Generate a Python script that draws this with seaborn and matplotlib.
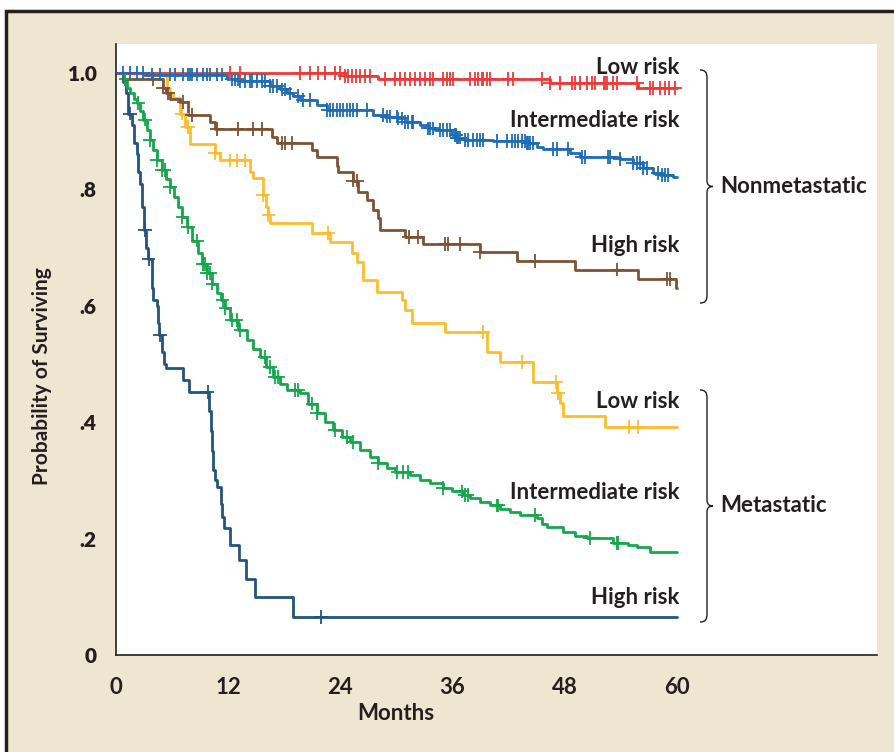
import numpy as np
import pandas as pd
import matplotlib
matplotlib.use("Agg")
import matplotlib.pyplot as plt
import seaborn as sns
from matplotlib.path import Path
from matplotlib.patches import PathPatch, Rectangle
from matplotlib.transforms import Affine2D

# ---------------- data (months, survival probability; step functions) ----------------
groups = ["Met high", "Met intermediate", "Met low", "Nonmet high", "Nonmet intermediate", "Nonmet low"]
colors = ["#24537D", "#14A84B", "#FDBD2B", "#7E5234", "#1C6CB6", "#EC3A35"]

met_high_t = [0, 0.8, 1.1, 1.3, 1.7, 1.9, 2.2, 2.4, 2.6, 2.8, 3.0, 3.2, 3.4, 3.8, 3.9, 4.0, 4.4, 4.5, 4.6,
              4.9, 5.1, 5.4, 7.2, 7.8, 10.0, 10.15, 10.3, 10.4, 10.6, 10.8, 11.2, 11.3, 11.5, 12.2, 13.2,
              13.9, 14.9, 18.9, 60]
met_high_s = [1.0, 0.985, 0.965, 0.93, 0.91, 0.88, 0.86, 0.83, 0.81, 0.77, 0.73, 0.70, 0.68, 0.66, 0.63,
              0.61, 0.60, 0.57, 0.55, 0.52, 0.50, 0.493, 0.472, 0.452, 0.42, 0.385, 0.35, 0.318, 0.30,
              0.289, 0.26, 0.237, 0.218, 0.189, 0.163, 0.131, 0.10, 0.065, 0.065]
met_high_cens = [1.5, 3.1, 3.5, 4.7, 9.8, 21.9]

met_int_t = [0, 0.75, 1.2, 1.5, 1.9, 2.2, 2.6, 2.9, 3.3, 3.6, 4.0, 4.4, 4.9, 5.3, 5.8, 6.2, 6.6, 7.1, 7.6,
             8.1, 8.8, 9.2, 9.7, 10.3, 10.8, 11.2, 11.7, 12.2, 13.0, 14.0, 14.7, 15.4, 16.0, 16.8, 17.5,
             18.3, 19.7, 20.5, 21.5, 22.4, 23.2, 24.2, 25.0, 26.1, 27.2, 28.0, 29.0, 29.8, 31.4, 32.5,
             33.6, 35.0, 35.9, 37.1, 37.9, 38.9, 40.0, 41.1, 42.1, 43.2, 45.0, 45.6, 46.1, 47.8, 49.1,
             50.4, 53.2, 54.8, 55.7, 57.1, 60]
met_int_s = [1.0, 0.99, 0.975, 0.965, 0.955, 0.948, 0.935, 0.92, 0.902, 0.885, 0.868, 0.85, 0.833, 0.818,
             0.804, 0.787, 0.770, 0.752, 0.735, 0.712, 0.69, 0.672, 0.656, 0.638, 0.622, 0.61, 0.596,
             0.576, 0.558, 0.541, 0.525, 0.512, 0.495, 0.478, 0.465, 0.455, 0.450, 0.432, 0.416, 0.40,
             0.387, 0.375, 0.366, 0.352, 0.340, 0.330, 0.321, 0.314, 0.310, 0.301, 0.295, 0.287, 0.281,
             0.275, 0.27, 0.263, 0.257, 0.251, 0.245, 0.241, 0.235, 0.225, 0.220, 0.211, 0.205, 0.201,
             0.192, 0.189, 0.186, 0.177, 0.177]
met_int_cens = [1.0, 2.4, 3.1, 3.6, 4.4, 4.9, 5.2, 5.8, 7.1, 7.7, 8.7, 9.3, 9.5, 9.7, 10.1, 10.3, 11.4,
                11.7, 12.4, 12.9, 13.3, 15.9, 16.5, 17.0, 17.3, 19.1, 19.5, 21.0, 21.5, 23.4, 24.7, 25.3,
                28.0, 30.1, 30.7, 31.2, 35.0, 37.0, 37.3, 37.6, 40.7, 40.9, 44.8, 50.7, 53.6, 53.7]

met_low_t = [0, 5.45, 5.8, 6.1, 6.85, 7.4, 7.9, 10.6, 11.1, 14.3, 14.65, 15.7, 16.0, 16.25, 16.5, 21.0,
             22.9, 25.2, 25.8, 26.4, 27.9, 30.6, 30.9, 31.7, 35.2, 39.7, 41.1, 44.6, 47.2, 47.5, 47.8,
             52.3, 60]
met_low_s = [1.0, 0.975, 0.965, 0.957, 0.93, 0.907, 0.878, 0.862, 0.85, 0.83, 0.82, 0.79, 0.77, 0.756,
             0.742, 0.725, 0.71, 0.69, 0.675, 0.644, 0.624, 0.61, 0.593, 0.57, 0.555, 0.521, 0.503, 0.469,
             0.45, 0.433, 0.41, 0.392, 0.392]
met_low_cens = [7.06, 7.7, 10.6, 12.2, 12.9, 13.8, 15.7, 16.3, 22.7, 39.3, 43.4, 47.1, 47.3, 54.9, 55.8]

non_high_t = [0, 0.8, 5.0, 5.35, 5.8, 6.85, 7.7, 10.05, 10.6, 16.7, 17.2, 21.0, 21.5, 23.6, 23.7, 25.3,
              25.9, 26.8, 27.5, 28.0, 28.2, 30.9, 32.8, 38.9, 42.9, 49.1, 55.8, 59.9, 60]
non_high_s = [1.0, 0.99, 0.975, 0.965, 0.955, 0.95, 0.928, 0.916, 0.904, 0.89, 0.88, 0.868, 0.856, 0.84,
              0.83, 0.815, 0.795, 0.782, 0.765, 0.75, 0.73, 0.718, 0.706, 0.692, 0.677, 0.662, 0.646,
              0.63, 0.63]
non_high_cens = [4.0, 5.0, 5.6, 7.2, 8.1, 10.8, 13.0, 14.7, 15.6, 17.8, 18.1, 18.8, 25.3, 25.8, 31.3,
                 32.3, 35.2, 35.5, 36.8, 38.9, 44.8, 53.6, 58.9, 59.3]

non_int_t = [0, 3.0, 11.9, 13.3, 16.5, 17.5, 18.3, 18.9, 19.7, 21.5, 22.6, 27.5, 28.8, 30.2, 30.9, 32.5,
             33.4, 34.1, 35.9, 36.5, 37.3, 40.3, 44.0, 45.0, 45.7, 48.6, 49.6, 53.9, 55.3, 56.4, 57.4,
             58.2, 59.6, 60]
non_int_s = [1.0, 0.997, 0.99, 0.986, 0.978, 0.972, 0.965, 0.96, 0.954, 0.945, 0.936, 0.928, 0.925,
             0.922, 0.916, 0.911, 0.905, 0.902, 0.893, 0.889, 0.885, 0.883, 0.88, 0.873, 0.869, 0.862,
             0.856, 0.852, 0.845, 0.837, 0.828, 0.825, 0.821, 0.821]
non_int_cens = [0.7, 1.5, 2.2, 2.9, 3.9, 4.7, 5.8, 6.3, 7.2, 7.7, 7.9, 8.1, 8.7, 9.3, 9.7, 10.1, 10.8,
                11.3, 12.4, 12.7, 13.0, 13.3, 13.8, 14.3, 14.6, 15.1, 15.6, 15.9, 16.5, 16.8, 17.2, 17.8,
                18.1, 18.6, 19.5, 20.0, 20.7, 22.6, 22.9, 23.2, 23.6, 24.0, 24.3, 24.7, 25.0, 25.3, 25.8,
                26.8, 28.6, 29.0, 29.3, 30.1, 30.2, 30.6, 30.9, 31.2, 31.7, 31.8, 33.4, 33.6, 33.9, 34.7,
                35.0, 35.4, 35.7, 36.3, 36.4, 36.5, 36.6, 36.8, 37.3, 37.6, 38.2, 38.6, 38.9, 39.3, 40.7,
                41.8, 42.4, 42.7, 43.0, 43.4, 43.7, 44.0, 44.1, 44.3, 44.6, 46.7, 47.2, 48.3, 49.8, 50.2,
                52.6, 52.8, 53.9, 55.3, 55.7, 56.0, 56.4, 56.8, 58.0, 58.4, 58.7, 59.0]

non_low_t = [0, 24.5, 28.0, 46.4, 55.8, 60]
non_low_s = [1.0, 0.995, 0.99, 0.983, 0.974, 0.974]
non_low_cens = [12.2, 13.3, 19.7, 20.7, 21.6, 22.4, 23.4, 24.0, 24.5, 24.8, 25.2, 25.7, 26.1, 26.6, 27.2,
                28.8, 29.8, 30.4, 30.9, 31.4, 32.0, 32.5, 33.0, 33.6, 33.9, 35.0, 35.4, 35.7, 36.0, 37.9,
                38.4, 38.7, 39.1, 39.3, 39.7, 40.0, 41.9, 42.5, 45.6, 46.4, 47.5, 48.8, 49.1, 49.6, 50.4,
                50.9, 51.2, 52.2, 52.3, 52.5, 53.2, 53.6, 55.7, 57.1, 57.4, 58.2, 58.7, 59.2, 59.8]

curve_labels = ["High risk", "Intermediate risk", "Low risk", "High risk", "Intermediate risk", "Low risk"]
label_y = [0.098, 0.280, 0.436, 0.703, 0.919, 1.0086]
group_names = ["Metastatic", "Nonmetastatic"]
x_ticks = [0, 12, 24, 36, 48, 60]
y_ticks = [0, 0.2, 0.4, 0.6, 0.8, 1.0]
y_tick_labels = ["0", ".2", ".4", ".6", ".8", "1.0"]

series = [(met_high_t, met_high_s, met_high_cens), (met_int_t, met_int_s, met_int_cens),
          (met_low_t, met_low_s, met_low_cens), (non_high_t, non_high_s, non_high_cens),
          (non_int_t, non_int_s, non_int_cens), (non_low_t, non_low_s, non_low_cens)]

# ---------------- build tables ----------------
line_rows, cens_rows = [], []
for g, (t, s, c) in zip(groups, series):
    t = np.asarray(t, float); s = np.asarray(s, float)
    for ti, si in zip(t, s):
        line_rows.append((g, ti, si))
    for ci in c:
        idx = np.searchsorted(t, ci, side="right") - 1
        cens_rows.append((g, ci, s[idx]))
lines = pd.DataFrame(line_rows, columns=["group", "months", "surv"])
cens = pd.DataFrame(cens_rows, columns=["group", "months", "surv"])

# ---------------- figure ----------------
W, H = 895, 752
sns.set_style("white")
plt.rcParams["font.family"] = ["Lato", "DejaVu Sans"]
fig = plt.figure(figsize=(W / 100, H / 100), dpi=100, facecolor="white")

beige = "#EEE6D0"
dark = "#231F20"
fig.patches.append(Rectangle((6 / W, -0.2), 1.5, 1.2 - 11 / H, transform=fig.transFigure,
                             facecolor=beige, edgecolor=dark, linewidth=2.5, zorder=-10))

ax = fig.add_axes([116 / W, 1 - 655 / H, 761 / W, 611 / H])
ax.set_facecolor("white")
palette = dict(zip(groups, colors))

sns.lineplot(data=lines, x="months", y="surv", hue="group", hue_order=groups, palette=palette,
             estimator=None, sort=False, drawstyle="steps-post", linewidth=2.0, legend=False, ax=ax)
sns.scatterplot(data=cens, x="months", y="surv", hue="group", hue_order=groups, palette=palette,
                marker="+", s=95, linewidth=1.3, legend=False, ax=ax, zorder=3)

ax.set_xlim(0, 81.4)
ax.set_ylim(0, 1.0498)
ax.set_xticks(x_ticks)
ax.set_xticklabels([str(v) for v in x_ticks])
ax.set_yticks(y_ticks)
ax.set_yticklabels(y_tick_labels)
for sp in ["top", "right"]:
    ax.spines[sp].set_visible(False)
for sp in ["left", "bottom"]:
    ax.spines[sp].set_color(dark)
    ax.spines[sp].set_linewidth(1.2)
ax.tick_params(axis="both", direction="out", length=9, width=1.1, color=dark, labelcolor=dark)
ax.tick_params(axis="y", pad=5, labelsize=15)
ax.tick_params(axis="x", pad=7, labelsize=16)
for lab in ax.get_yticklabels():
    lab.set_fontweight("heavy")
for lab in ax.get_xticklabels():
    lab.set_fontweight("bold")
    lab.set_family(["Liberation Sans Narrow", "Lato", "DejaVu Sans"])

ax.set_xlabel("Months", fontsize=16, fontweight="bold", color=dark,
              family=["Liberation Sans Narrow", "Lato", "DejaVu Sans"])
ax.xaxis.set_label_coords(0.368, -0.078)
ax.set_ylabel("Probability of Surviving", fontsize=15, fontweight="bold", color=dark)
ax.yaxis.set_label_coords(-0.084, 0.456)

for txt, yv in zip(curve_labels, label_y):
    ax.text(60.3, yv, txt, ha="right", va="center", fontsize=16, fontweight="bold", color=dark)

# braces and group labels (figure pixel coordinates, y from top)
pix = Affine2D().scale(1 / W, -1 / H).translate(0, 1) + fig.transFigure

def brace(y0, y1):
    ym = (y0 + y1) / 2
    verts = [(700, y0), (705, y0), (707, y0 + 2), (707, y0 + 8),
             (707, ym - 6),
             (707, ym - 2), (709, ym), (713, ym),
             (709, ym), (707, ym + 2), (707, ym + 6),
             (707, y1 - 8),
             (707, y1 - 2), (705, y1), (700, y1)]
    codes = [Path.MOVETO, Path.CURVE4, Path.CURVE4, Path.CURVE4, Path.LINETO,
             Path.CURVE4, Path.CURVE4, Path.CURVE4, Path.CURVE4, Path.CURVE4, Path.CURVE4,
             Path.LINETO, Path.CURVE4, Path.CURVE4, Path.CURVE4]
    p = PathPatch(Path(verts, codes), transform=pix, fill=False, edgecolor=dark, linewidth=1.0)
    fig.patches.append(p)
    return ym

ym1 = brace(70, 303)
ym2 = brace(390, 622)
fig.text(720 / W, 1 - ym1 / H, group_names[1], ha="left", va="center", fontsize=16,
         fontweight="bold", color=dark)
fig.text(720 / W, 1 - ym2 / H, group_names[0], ha="left", va="center", fontsize=16,
         fontweight="bold", color=dark)

fig.savefig("out.png", dpi=100, facecolor=fig.get_facecolor())
